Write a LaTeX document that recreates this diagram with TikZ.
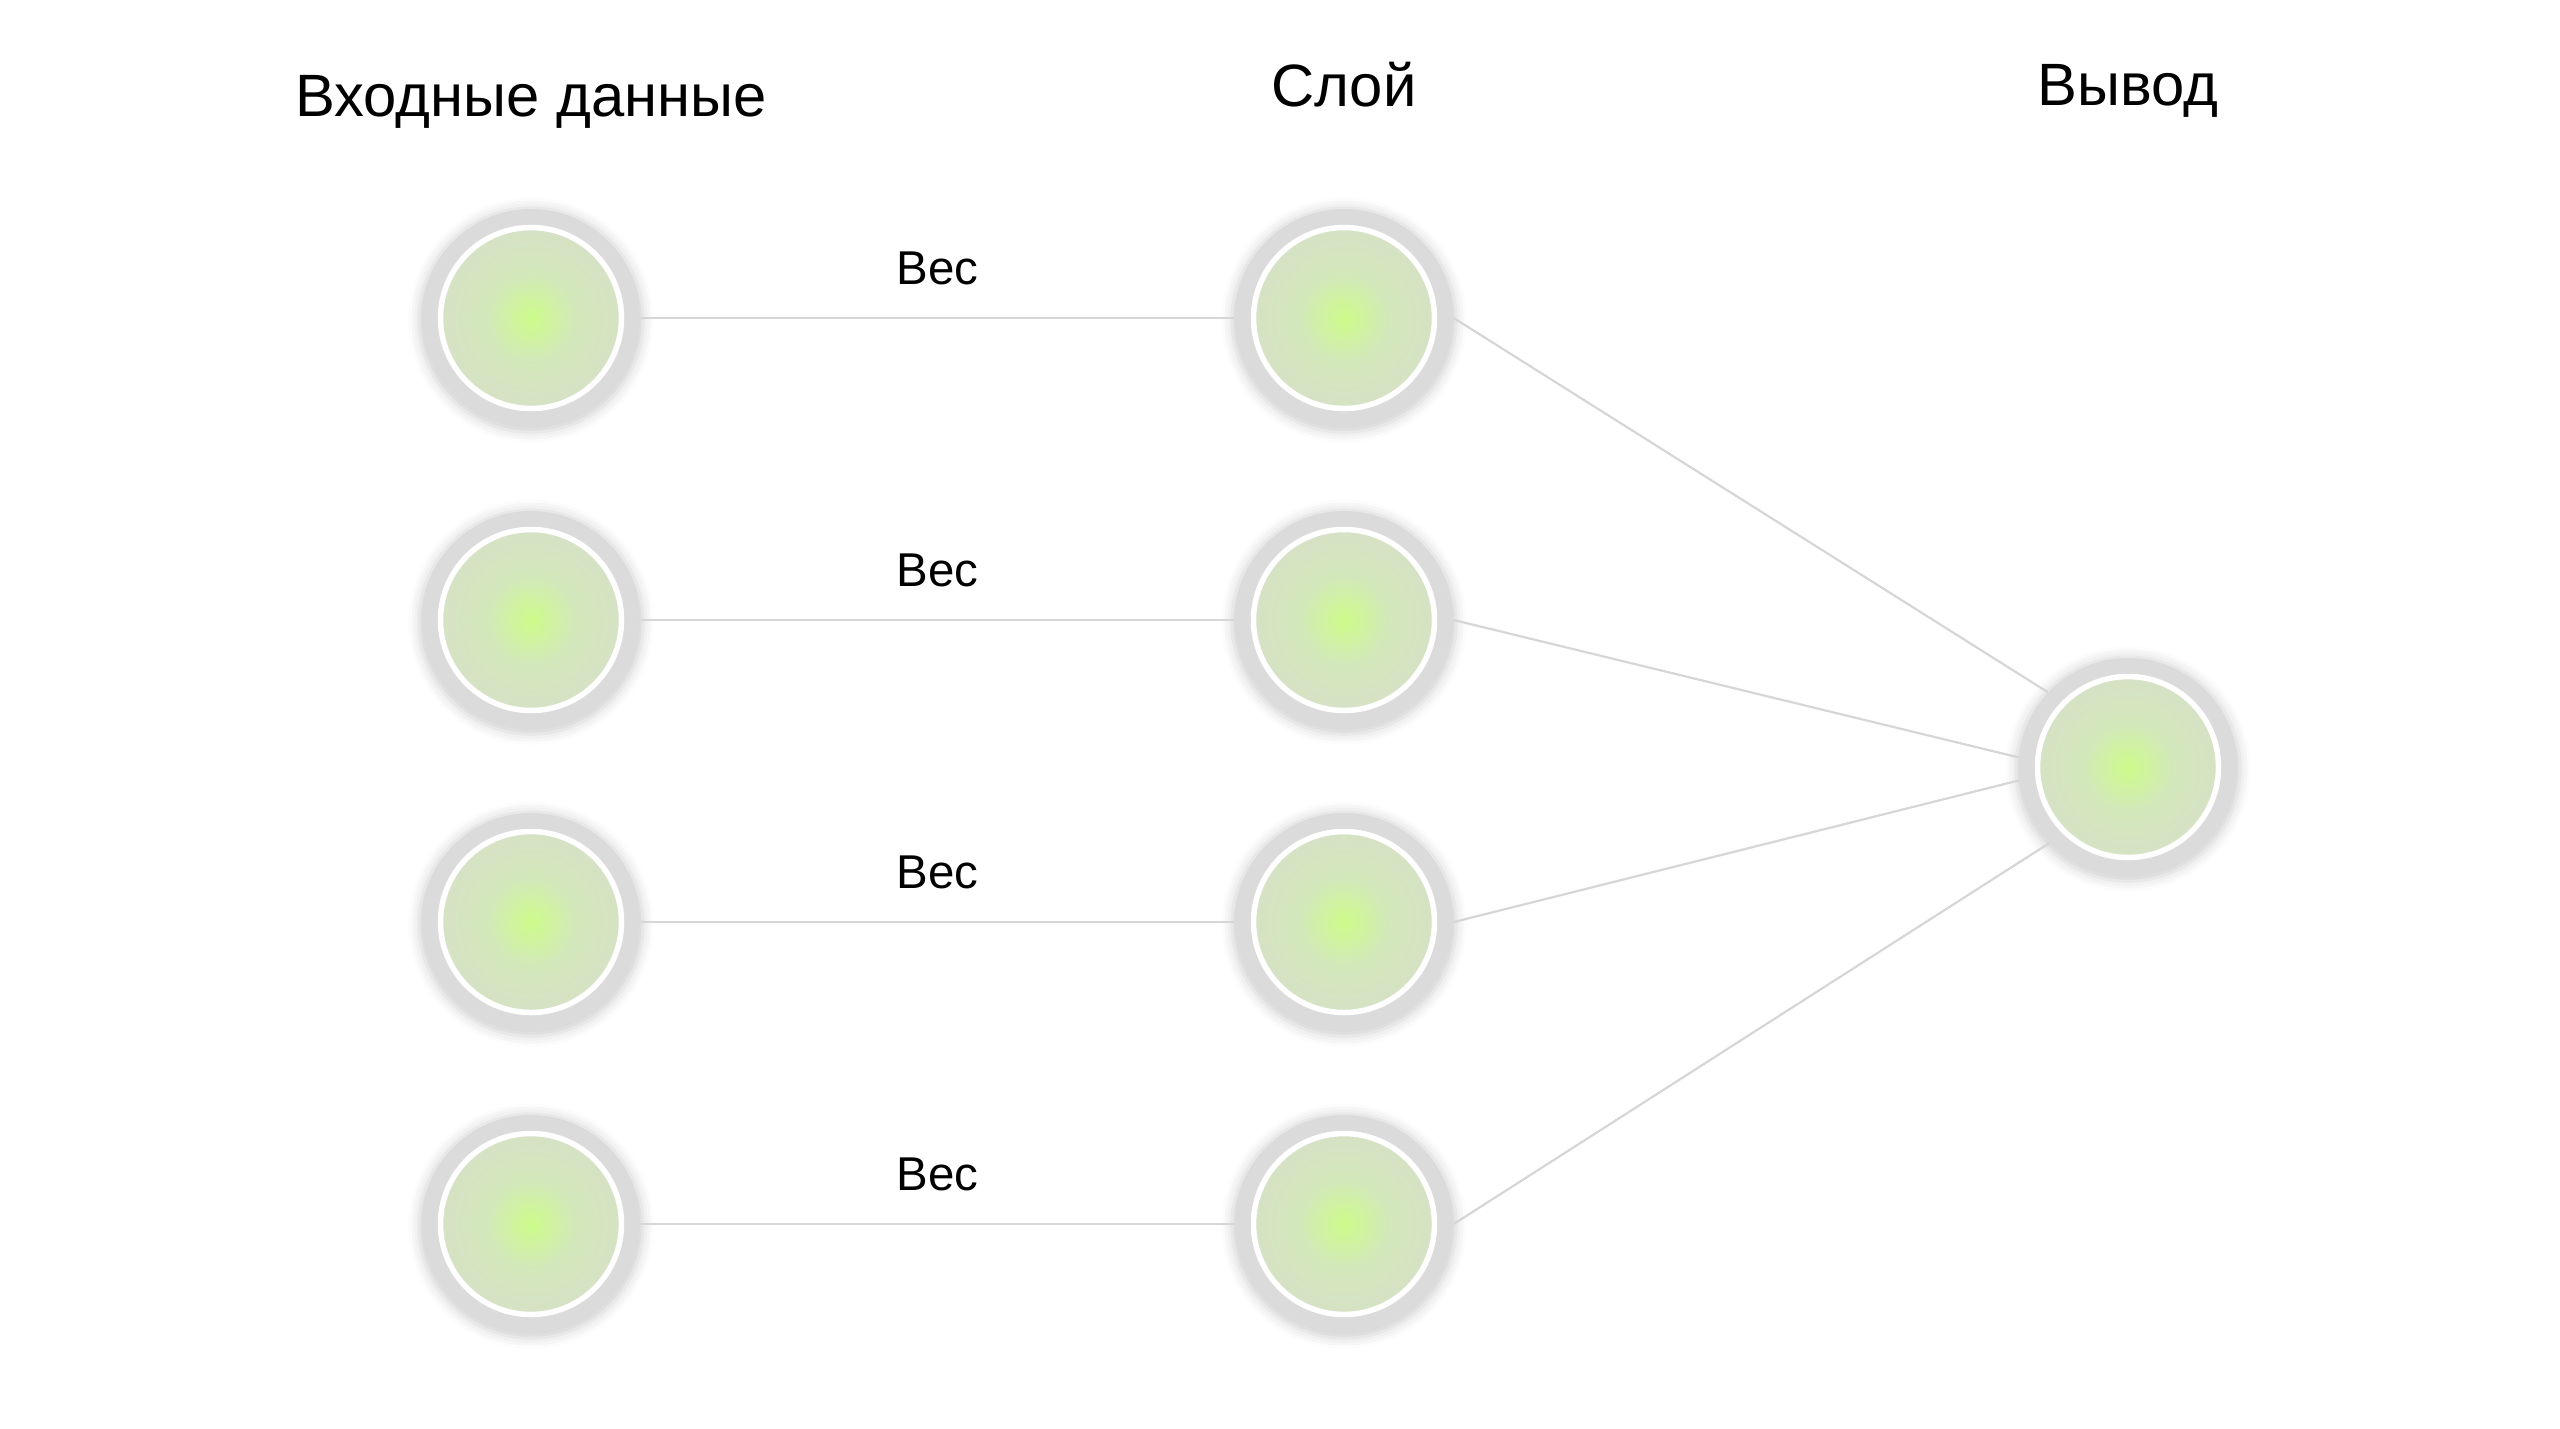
\documentclass[tikz,border=0pt]{standalone}
\usepackage{fontspec}
\setmainfont{Liberation Sans}
\usepackage{tikz}
\usetikzlibrary{shadows.blur}

\definecolor{ringgray}{RGB}{219,219,219}
\definecolor{linkgray}{RGB}{214,214,214}
\definecolor{nglow}{RGB}{204,252,138}
\definecolor{nmid}{RGB}{211,232,186}
\definecolor{nedge}{RGB}{215,221,205}
\pgfdeclareradialshading{neuronfill}{\pgfpoint{0bp}{0bp}}{color(0bp)=(nglow); color(10bp)=(nmid); color(28bp)=(nedge); color(50bp)=(nedge)}

\begin{document}
\begin{tikzpicture}[node distance={3.02cm},
  main/.style = {circle, minimum size=2.18cm, inner sep=0pt, fill=ringgray,
    blur shadow={shadow xshift=0pt, shadow yshift=-0.02cm, shadow blur radius=0.1cm, shadow opacity=18, shadow scale=1.03},
    path picture={
      \shade[shading=neuronfill] (path picture bounding box.center) circle (0.89cm);
      \draw[white, line width=0.055cm] (path picture bounding box.center) circle (0.905cm);}},
  link/.style = {draw=linkgray, line width=0.022cm},
  title/.style = {font=\fontsize{17}{20}\selectfont, anchor=base},
  weight/.style = {font=\fontsize{13.5}{16}\selectfont, anchor=base, yshift=0.34cm}]
\useasboundingbox (0,0) rectangle (25.6,-14.28);
% inputs
\node[main] (1) at (5.31,-3.18) {};
\node[main] (2) [below of=1] {};
\node[main] (3) [below of=2] {};
\node[main] (4) [below of=3] {};
% layer
\node[main] (5) [right of=1, node distance=8.13cm] {};
\node[main] (6) [below of=5] {};
\node[main] (7) [below of=6] {};
\node[main] (8) [below of=7] {};
% output
\node[main] (9) [right of=6, node distance=7.84cm, yshift=-1.47cm] {};
\node (t1) [above of=1, node distance=2.02cm, title] {Входные данные};
\node (t2) [above of=5, node distance=2.12cm, title] {Слой};
\node (t3) [above of=9, node distance=6.62cm, title] {Вывод};
\draw[link] (1) -- node[midway, weight] (w1) {Вес} (5);
\draw[link] (2) -- node[midway, weight] (w2) {Вес} (6);
\draw[link] (3) -- node[midway, weight] (w3) {Вес} (7);
\draw[link] (4) -- node[midway, weight] (w4) {Вес} (8);
\draw[link] (5.east) -- (9.137);
\draw[link] (6.east) -- (9.175);
\draw[link] (7.east) -- (9.187);
\draw[link] (8.east) -- (9.224);
\end{tikzpicture}
\end{document}
